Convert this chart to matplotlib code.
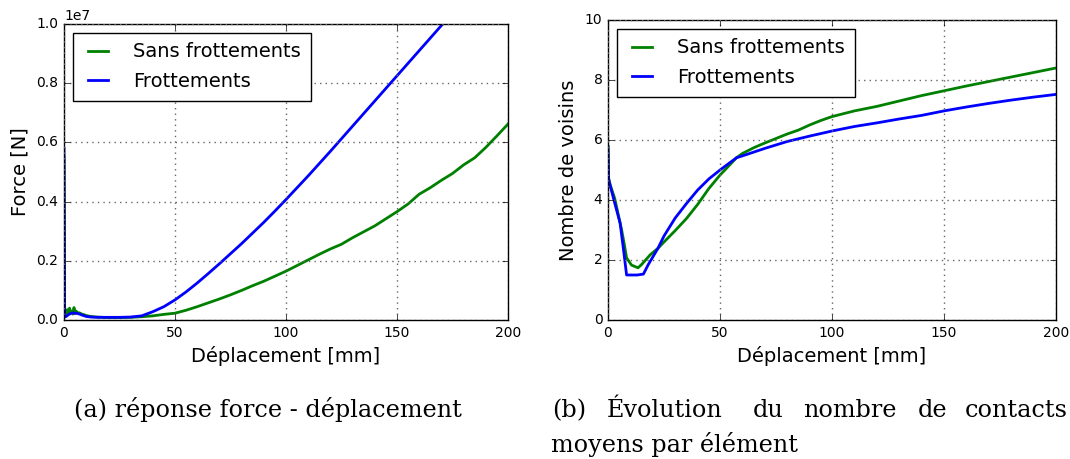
import matplotlib
matplotlib.use("Agg")
import matplotlib.pyplot as plt

plt.style.use("classic")

# ---- data: left panel (force, units of 1e7 N) ----
x_force_sans = [0, 0.3, 1, 1.5, 2, 2.5, 3, 3.5, 4, 4.5, 5, 5.5, 6, 7, 8, 9, 10, 12, 15, 20, 25, 30, 35, 40, 45, 50,
                55, 60, 65, 70, 75, 80, 85, 90, 95, 100, 105, 110, 115, 120, 125, 130, 135, 140, 145, 150,
                155, 160, 165, 170, 175, 180, 185, 190, 195, 200]
f_sans = [0.55, 0.02, 0.015, 0.035, 0.02, 0.04, 0.025, 0.03, 0.02, 0.042, 0.022, 0.03, 0.025, 0.024, 0.02, 0.018, 0.015, 0.012, 0.01, 0.008, 0.008, 0.009, 0.011, 0.014, 0.019, 0.023,
          0.033, 0.045, 0.058, 0.071, 0.085, 0.1, 0.116, 0.131, 0.148, 0.165, 0.184, 0.203, 0.222, 0.24, 0.256, 0.278, 0.298, 0.318, 0.342, 0.366,
          0.392, 0.425, 0.447, 0.472, 0.495, 0.524, 0.548, 0.583, 0.622, 0.662]
x_force_frot = [0, 0.3, 1, 2, 3, 4, 5, 6, 7, 8, 10, 12, 15, 20, 25, 30, 35, 40, 45, 50, 55, 60, 65, 70, 75, 80, 85, 90, 95, 100,
                110, 120, 130, 140, 150, 160, 170, 180, 190, 200]
f_frot = [0.58, 0.01, 0.012, 0.018, 0.022, 0.024, 0.023, 0.022, 0.02, 0.017, 0.012, 0.01, 0.009, 0.009, 0.009, 0.01, 0.014, 0.028, 0.045, 0.068, 0.095, 0.125, 0.157, 0.19, 0.224, 0.258, 0.294, 0.33, 0.368, 0.407,
          0.487, 0.57, 0.655, 0.74, 0.825, 0.91, 0.995, 1.08, 1.165, 1.25]

# ---- data: right panel (mean number of neighbours) ----
x_vois_sans = [0, 0.3, 1, 3, 6.1, 7.2, 8.3, 10.5, 13.4, 15, 18.8, 22.3, 25, 30, 35, 40, 45, 50, 57.4, 60, 65, 70, 75, 80, 85, 90, 95, 100,
               110, 120, 130, 140, 150, 160, 170, 180, 190, 200]
n_sans = [5.78, 4.7, 4.5, 4.05, 3.0, 2.55, 2.07, 1.83, 1.74, 1.85, 2.17, 2.39, 2.6, 2.98, 3.38, 3.85, 4.38, 4.83, 5.41, 5.55, 5.74, 5.9, 6.05, 6.2, 6.33, 6.5, 6.65, 6.78,
          6.97, 7.12, 7.3, 7.48, 7.64, 7.8, 7.95, 8.1, 8.25, 8.4]
x_vois_frot = [0, 0.3, 0.9, 3, 5.4, 7, 8.3, 10, 13, 15.8, 18, 22.3, 25, 30, 35, 40, 45, 50, 57.4, 60, 70, 80, 90, 100,
               110, 120, 130, 140, 150, 160, 170, 180, 190, 200]
n_frot = [5.78, 4.7, 4.5, 3.9, 3.23, 2.3, 1.5, 1.5, 1.5, 1.53, 1.85, 2.39, 2.8, 3.4, 3.88, 4.33, 4.7, 5.0, 5.41, 5.47, 5.72, 5.95, 6.13, 6.3,
          6.45, 6.57, 6.7, 6.82, 6.97, 7.1, 7.22, 7.33, 7.43, 7.52]

labels = ["Sans frottements", "Frottements"]
caption_a = "(a) réponse force - déplacement"
caption_b_words = ["(b)", "Évolution", "du", "nombre", "de", "contacts"]
caption_b_line2 = "moyens par élément"

fig = plt.figure(figsize=(10.7, 4.59), dpi=100, facecolor="white")

ax1 = fig.add_axes([64/1070, 1-320/459, (508-64)/1070, (320-24)/459])
ax2 = fig.add_axes([608/1070, 1-320/459, (1056-608)/1070, (320-20)/459])

ax1.plot(x_force_sans, [v*1e7 for v in f_sans], color="g", lw=2, label=labels[0])
ax1.plot(x_force_frot, [v*1e7 for v in f_frot], color="b", lw=2, label=labels[1])
ax1.set_xlim(0, 200)
ax1.set_ylim(0, 1e7)
ax1.set_xticks([0, 50, 100, 150, 200])
ax1.set_ylabel("Force [N]", fontsize=14)
ax1.set_xlabel("Déplacement [mm]", fontsize=14)

ax2.plot(x_vois_sans, n_sans, color="g", lw=2, label=labels[0])
ax2.plot(x_vois_frot, n_frot, color="b", lw=2, label=labels[1])
ax2.set_xlim(0, 200)
ax2.set_ylim(0, 10)
ax2.set_xticks([0, 50, 100, 150, 200])
ax2.set_yticks([0, 2, 4, 6, 8, 10])
ax2.set_ylabel("Nombre de voisins", fontsize=14)
ax2.set_xlabel("Déplacement [mm]", fontsize=14)

for ax in (ax1, ax2):
    ax.grid(True, color="0.4", linestyle=":", linewidth=1)
    ax.tick_params(labelsize=10)
    ax.set_facecolor("white")
    ax.yaxis.get_offset_text().set_fontsize(10)
    leg = ax.legend(loc="upper left", fontsize=14, handlelength=1.6, handletextpad=1.0,
                    borderpad=0.5, labelspacing=0.55, borderaxespad=0.45, fancybox=False)
    leg.get_frame().set_linewidth(1.0)

serif = ["DejaVu Serif", "Liberation Serif"]
fs_cap = 17.2
fig.text(74/1070, 1-417/459, caption_a, family=serif, fontsize=fs_cap, va="baseline", ha="left")
xs_b = [552, 607, 753, 803, 918]
for w, xp in zip(caption_b_words[:-1], xs_b):
    fig.text(xp/1070, 1-417/459, w, family=serif, fontsize=fs_cap, va="baseline", ha="left")
fig.text(1068/1070, 1-417/459, caption_b_words[-1], family=serif, fontsize=fs_cap, va="baseline", ha="right")
fig.text(551/1070, 1-452/459, caption_b_line2, family=serif, fontsize=fs_cap, va="baseline", ha="left")

fig.savefig("out.png", dpi=100, facecolor="white")
